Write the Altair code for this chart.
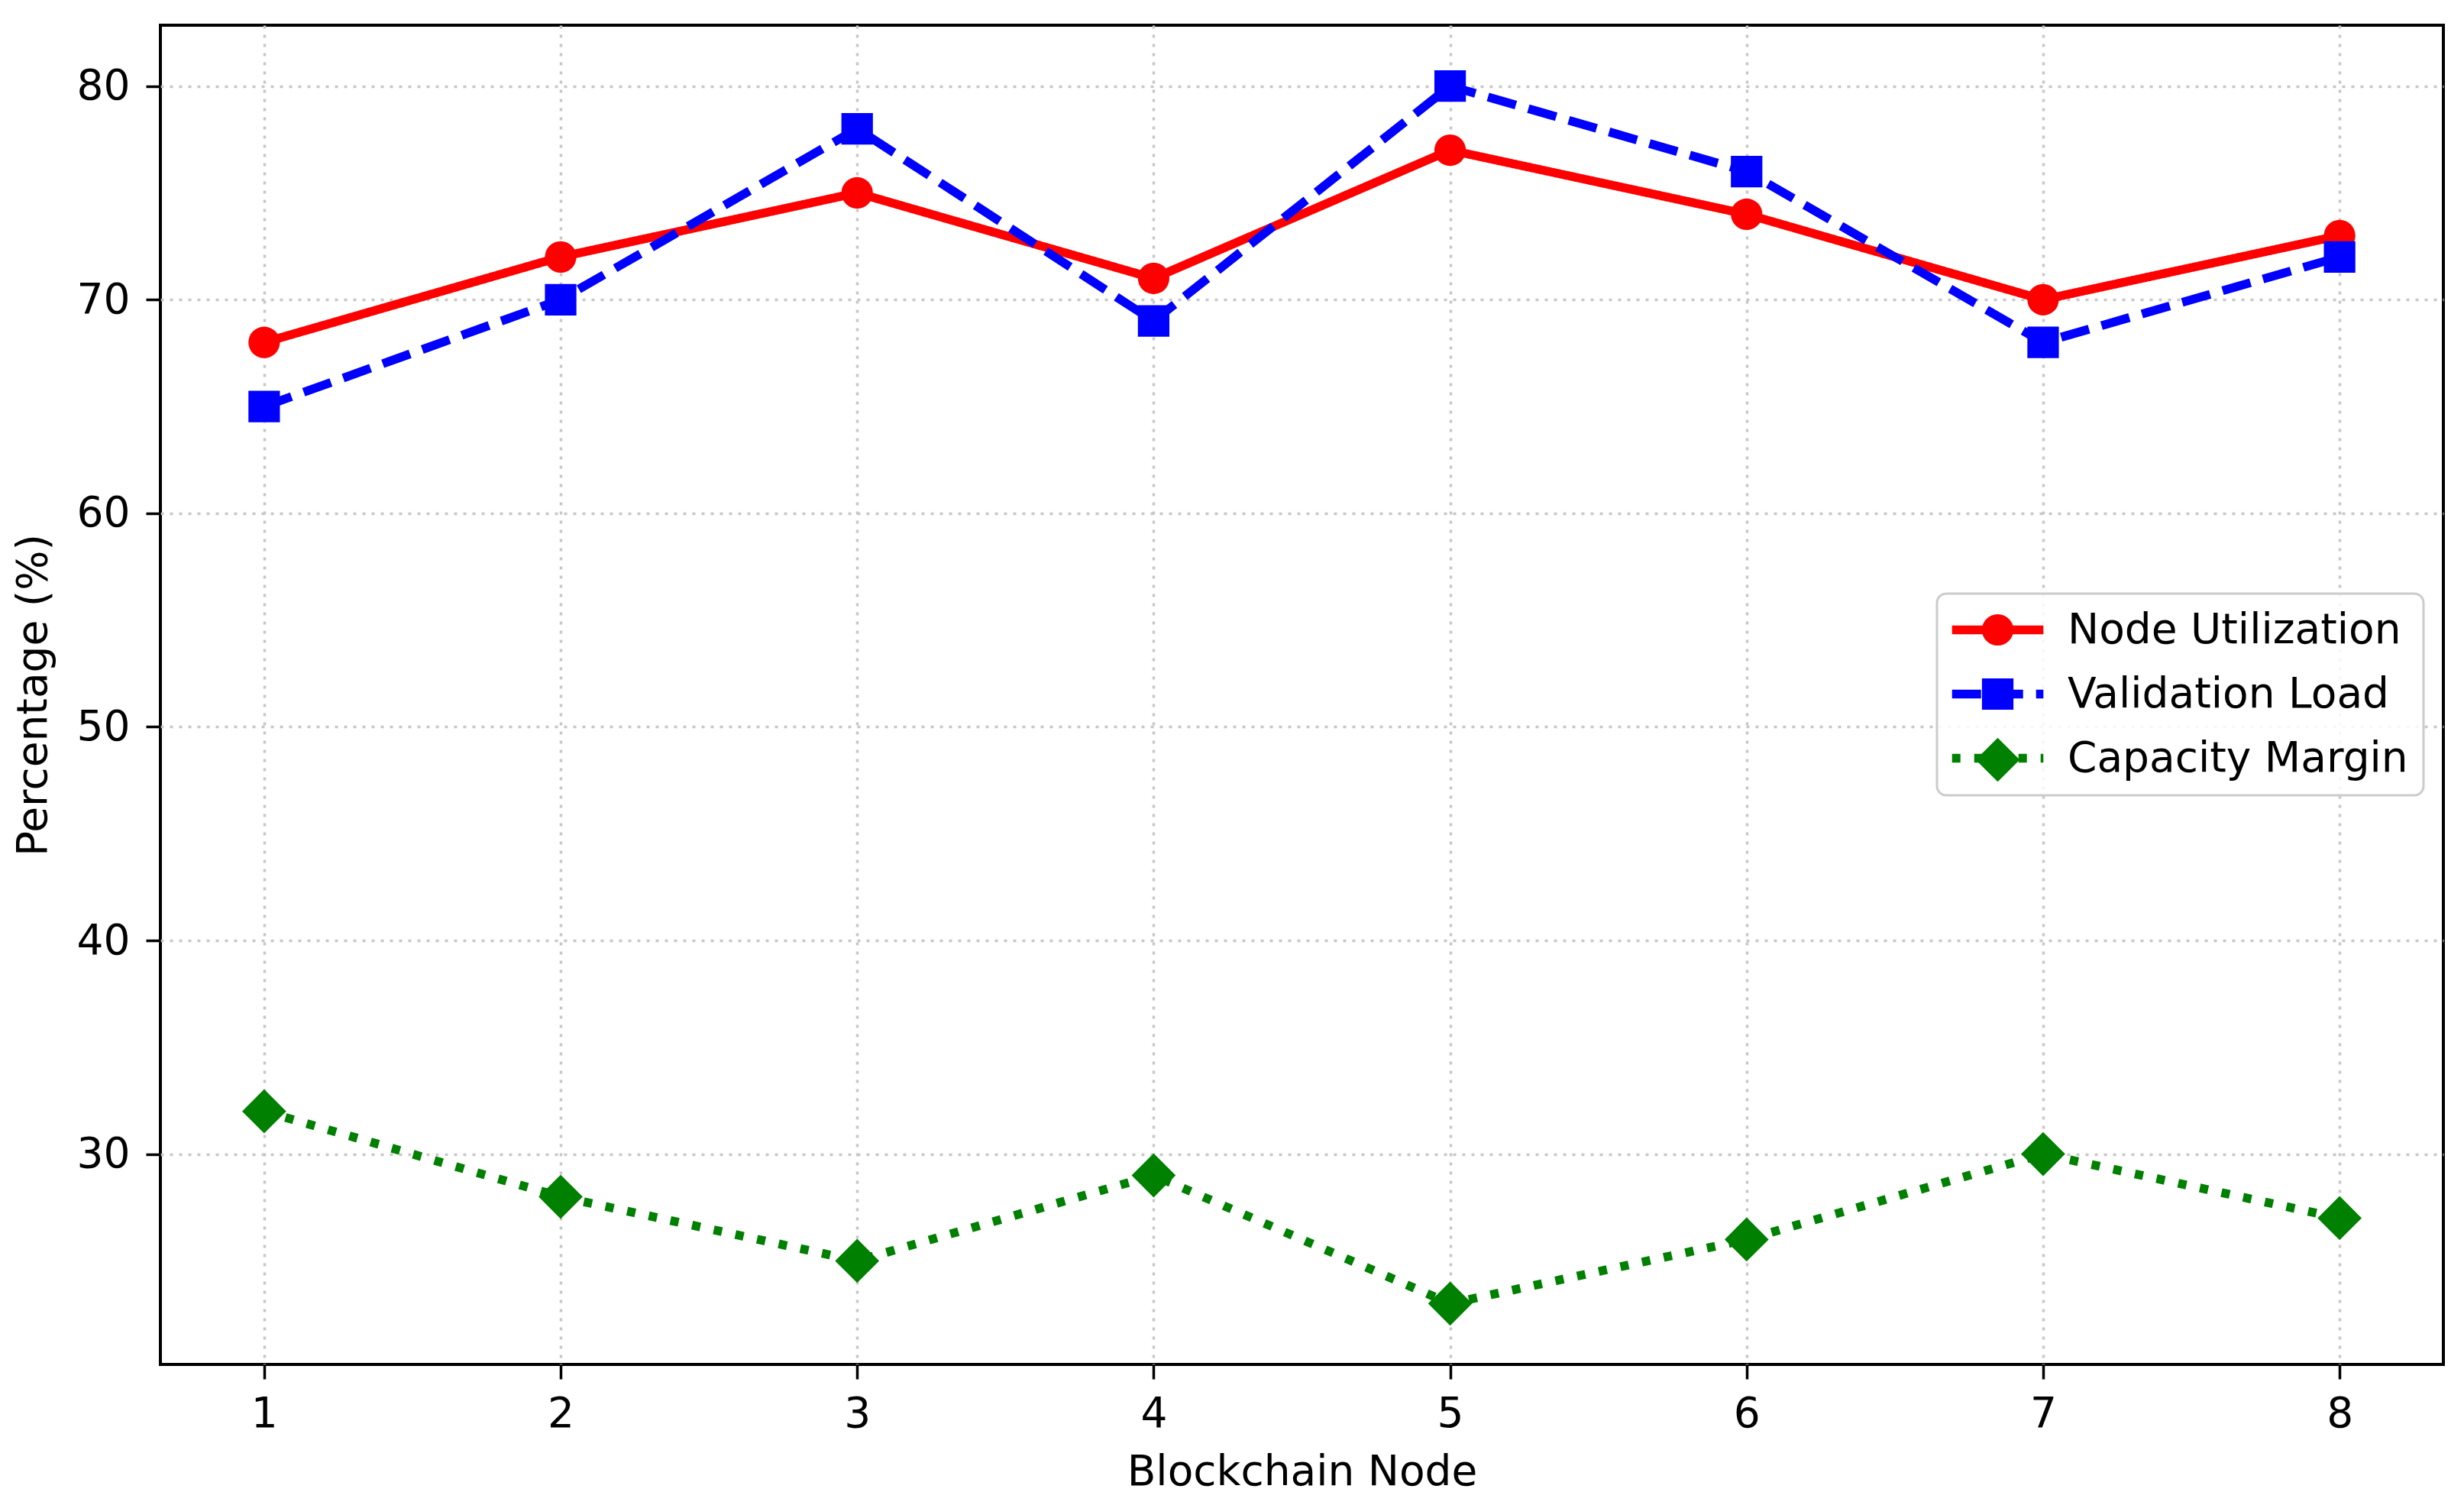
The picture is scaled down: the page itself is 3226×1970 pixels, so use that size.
import altair as alt
import pandas as pd

nodes = [1, 2, 3, 4, 5, 6, 7, 8]
node_utilization = [68, 72, 75, 71, 77, 74, 70, 73]
validation_load = [65, 70, 78, 69, 80, 76, 68, 72]
capacity_margin = [32, 28, 25, 29, 23, 26, 30, 27]
series_names = ["Node Utilization", "Validation Load", "Capacity Margin"]
series_colors = ["#ff0000", "#0000ff", "#008000"]
x_ticks = [1, 2, 3, 4, 5, 6, 7, 8]
y_ticks = [30, 40, 50, 60, 70, 80]

# marker-layer key: same names with a trailing space so its legend stays separate
marker_names = [n + " " for n in series_names]

rows = []
for name, mname, vals in zip(series_names, marker_names,
                             [node_utilization, validation_load, capacity_margin]):
    for n, v in zip(nodes, vals):
        rows.append({"node": n, "value": v, "series": name, "series_m": mname})
df = pd.DataFrame(rows)

FONT = "DejaVu Sans"
FS = 55
LW = 11.5
DIAMOND = "M0,-1.4L1.4,0L0,1.4L-1.4,0Z"

x_enc = alt.X(
    "node:Q",
    scale=alt.Scale(domain=[0.65, 8.35], nice=False, zero=False),
    axis=alt.Axis(values=x_ticks, title="Blockchain Node", format="d",
                  labelPadding=19, titlePadding=22, labelFlush=False),
)
y_enc = alt.Y(
    "value:Q",
    scale=alt.Scale(domain=[20.15, 82.85], nice=False, zero=False),
    axis=alt.Axis(values=y_ticks, title="Percentage (%)", format="d",
                  labelPadding=21, titlePadding=28),
)

legend_common = dict(
    orient="none", legendX=2326, legendY=744, title=None,
    labelFontSize=FS, labelFont=FONT, labelColor="black", labelLimit=2000,
    padding=20, rowPadding=28, symbolOffset=32, labelOffset=64,
    symbolSize=1700,
)

line_legend = alt.Legend(
    symbolType="M-2.9,0L2.9,0", symbolStrokeWidth=LW,
    symbolFillColor="transparent",
    fillColor="rgba(255,255,255,0.85)",
    strokeColor="#cccccc", cornerRadius=12,
    **legend_common)

marker_legend = alt.Legend(
    labelOpacity=0, symbolStrokeWidth=0,
    fillColor="transparent", strokeColor="transparent",
    **legend_common)

lines = alt.Chart(df).mark_line(strokeWidth=LW, strokeCap="butt", strokeJoin="round").encode(
    x=x_enc,
    y=y_enc,
    color=alt.Color("series:N",
                    scale=alt.Scale(domain=series_names, range=series_colors),
                    legend=line_legend),
    strokeDash=alt.StrokeDash("series:N",
                              scale=alt.Scale(domain=series_names,
                                              range=[[1, 0], [38, 17], [11, 18]]),
                              legend=line_legend),
)

points = alt.Chart(df).mark_point(filled=True, size=1700, opacity=1, strokeWidth=0).encode(
    x=x_enc,
    y=y_enc,
    fill=alt.Fill("series_m:N",
                  scale=alt.Scale(domain=marker_names, range=series_colors),
                  legend=marker_legend),
    shape=alt.Shape("series_m:N",
                    scale=alt.Scale(domain=marker_names,
                                    range=["circle", "square", DIAMOND]),
                    legend=marker_legend),
)

chart = alt.layer(lines, points).properties(
    width=2989,
    height=1753,
    autosize=alt.AutoSizeParams(type="none"),
    padding={"left": 202, "top": 25, "right": 19, "bottom": 176},
    background="white",
).configure_view(
    stroke="black", strokeWidth=4,
).configure_axis(
    domain=False,
    grid=True,
    gridColor="#c8c8c8",
    gridDash=[4, 8],
    gridWidth=3.5,
    ticks=True,
    tickColor="black",
    tickWidth=3.5,
    tickSize=19,
    labelFont=FONT,
    labelFontSize=FS,
    labelColor="black",
    titleFont=FONT,
    titleFontSize=FS,
    titleFontWeight="normal",
    titleColor="black",
).configure_legend(
    strokeWidth=3,
)

chart.save("out.html", embed_options={"renderer": "svg", "actions": False})
